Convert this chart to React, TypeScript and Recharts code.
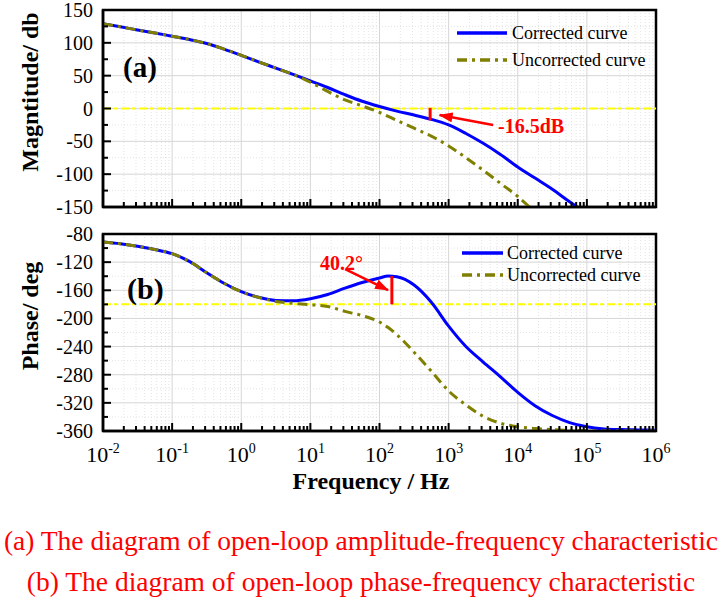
import React from 'react';
import {
  LineChart,
  Line,
  XAxis,
  YAxis,
  CartesianGrid,
  ReferenceLine,
  ReferenceArea,
} from 'recharts';

const SERIF = "'Liberation Serif', Tinos, 'Times New Roman', 'DejaVu Serif', serif";
const BLUE = '#0000ff';
const OLIVE = '#808000';
const RED = '#ff0000';
const YELLOW = '#ffff00';
const OLIVE_DASH = '10 5 3 5';

// x axis: decades 10^-2 .. 10^6
const DECADES = [-2, -1, 0, 1, 2, 3, 4, 5, 6];
const MAJOR_F = DECADES.map((d) => 10 ** d);
const MINOR_F = DECADES.slice(0, -1).flatMap((d) => [2, 3, 4, 5, 6, 7, 8, 9].map((k) => k * 10 ** d));
const ALL_F = [...MAJOR_F, ...MINOR_F].sort((a, b) => a - b);

// (a) magnitude, sampled at log10(f)
const MAG_LOG_F = [
  -2, -1.75, -1.5, -1.25, -1, -0.75, -0.5, -0.25, 0, 0.25, 0.5, 0.75, 1, 1.25, 1.5,
  1.75, 2, 2.25, 2.5, 2.75, 3, 3.25, 3.5, 3.75, 4, 4.25, 4.5, 4.75, 5,
];
const MAG_CORRECTED = [
  129, 124.5, 119.5, 115, 110, 105, 99, 90.5, 81, 71, 61.5, 52, 42, 32, 21,
  11, 3, -4, -10, -16.5, -25, -38, -53, -70, -89, -106, -123, -142, -160,
];
const MAG_UNCORRECTED = [
  129, 124.5, 119.5, 115, 110, 105, 99, 90.5, 81, 71, 61.5, 52, 40, 26, 13,
  4, -6, -18, -30, -42, -57, -75, -94, -114, -134, -158, null, null, null,
];
const MAG_MAJOR = [-150, -100, -50, 0, 50, 100, 150];
const MAG_MINOR = [-125, -75, -25, 25, 75, 125];

// (b) phase, sampled at log10(f)
const PH_LOG_F = [
  -2, -1.75, -1.5, -1.25, -1, -0.75, -0.5, -0.25, 0, 0.25, 0.5, 0.75, 1, 1.25, 1.5,
  1.75, 2, 2.125, 2.25, 2.5, 2.75, 3, 3.25, 3.5, 3.75, 4, 4.25, 4.5, 4.75, 5, 5.25,
  5.5, 5.75, 6,
];
const PH_CORRECTED = [
  -91.5, -94, -97.5, -102, -108, -119, -135, -150, -162, -170, -174.5, -175, -172, -166, -157,
  -149, -142.5, -139.8, -140.8, -152.5, -177, -211, -240, -262, -283, -305, -324, -338, -348, -354, -357,
  -358, -358.5, -359,
];
const PH_UNCORRECTED = [
  -91.5, -94, -97.5, -102, -108, -119, -135, -150, -162, -170, -176, -178.5, -180.5, -183, -190,
  -196, -205, -213, -223, -248, -275, -303, -323, -339, -349, -354, -356.5, -358, -359, -359.5, -360,
  -360, -360, -360,
];
const PH_MAJOR = [-360, -320, -280, -240, -200, -160, -120, -80];
const PH_MINOR = [-340, -300, -260, -220, -180, -140, -100];

const magData = MAG_LOG_F.map((e, i) => ({
  f: 10 ** e,
  corrected: MAG_CORRECTED[i],
  uncorrected: MAG_UNCORRECTED[i],
}));
const phData = PH_LOG_F.map((e, i) => ({
  f: 10 ** e,
  corrected: PH_CORRECTED[i],
  uncorrected: PH_UNCORRECTED[i],
}));

const LEGEND = [
  { name: 'Corrected curve', color: BLUE, dash: undefined },
  { name: 'Uncorrected curve', color: OLIVE, dash: OLIVE_DASH },
];

const serif = { fontFamily: SERIF };

function XTick(props: any) {
  const { x, y, payload, showLabel } = props;
  const e = Math.log10(payload.value);
  const major = Math.abs(e - Math.round(e)) < 1e-6;
  return (
    <g>
      <line x1={x} x2={x} y1={y} y2={y - (major ? 8 : 5)} stroke="#000" strokeWidth={2} />
      {major && showLabel && (
        <text x={x} y={y + 31} textAnchor="middle" style={serif} fontSize={22} fill="#000">
          10
          <tspan dy={-9} fontSize={14}>
            {Math.round(e)}
          </tspan>
        </text>
      )}
    </g>
  );
}

function YTick(props: any) {
  const { x, y, payload, majors } = props;
  const major = majors.includes(payload.value);
  return (
    <g>
      <line x1={x} x2={x + (major ? 8 : 5)} y1={y} y2={y} stroke="#000" strokeWidth={2} />
      {major && (
        <text x={x - 10} y={y + 7} textAnchor="end" style={serif} fontSize={20} fill="#000">
          {payload.value}
        </text>
      )}
    </g>
  );
}

const redArrow = (p: any) => (
  <line x1={p.x1} y1={p.y1} x2={p.x2} y2={p.y2} stroke={RED} strokeWidth={2.5} markerEnd="url(#redArrow)" />
);

function LegendBlock({ x, y, len, textX, rowH }: any) {
  return (
    <g>
      {LEGEND.map((s, i) => (
        <g key={s.name}>
          <line
            x1={x}
            x2={x + len}
            y1={y + i * rowH}
            y2={y + i * rowH}
            stroke={s.color}
            strokeWidth={3.5}
            strokeDasharray={s.dash}
          />
          <text x={textX} y={y + i * rowH + 6} style={serif} fontSize={18} fill="#000">
            {s.name}
          </text>
        </g>
      ))}
    </g>
  );
}

export default function App() {
  const axisLine = { stroke: '#000', strokeWidth: 2.5 };
  return (
    <div style={{ position: 'absolute', left: 0, top: 0, width: 724, height: 607, background: '#fff', fontFamily: SERIF }}>
      <div style={{ position: 'absolute', left: 0, top: 0 }}>
        <LineChart width={724} height={220} data={magData} margin={{ top: 10, right: 68, left: 0, bottom: 0 }}>
          <CartesianGrid verticalValues={MINOR_F} horizontalValues={MAG_MINOR} stroke="#e4e4e4" strokeDasharray="1 2" />
          <CartesianGrid verticalValues={MAJOR_F} horizontalValues={MAG_MAJOR} stroke="#d6d6d6" />
          <XAxis
            dataKey="f"
            type="number"
            scale="log"
            domain={[0.01, 1e6]}
            ticks={ALL_F}
            interval={0}
            allowDataOverflow
            height={13}
            tickSize={0}
            tickMargin={0}
            tickLine={false}
            axisLine={axisLine}
            tick={(p: any) => <XTick {...p} showLabel={false} />}
          />
          <YAxis
            type="number"
            domain={[-150, 150]}
            ticks={[...MAG_MAJOR, ...MAG_MINOR].sort((a, b) => a - b)}
            interval={0}
            allowDataOverflow
            width={103}
            tickSize={0}
            tickMargin={0}
            tickLine={false}
            axisLine={axisLine}
            tick={(p: any) => <YTick {...p} majors={MAG_MAJOR} />}
          />
          <ReferenceLine y={0} stroke={YELLOW} strokeWidth={2} strokeDasharray="8 3 4 3" />
          <Line type="monotone" dataKey="corrected" stroke={BLUE} strokeWidth={3} dot={false} isAnimationActive={false} />
          <Line
            type="monotone"
            dataKey="uncorrected"
            stroke={OLIVE}
            strokeWidth={3}
            strokeDasharray={OLIVE_DASH}
            dot={false}
            isAnimationActive={false}
          />
          <ReferenceLine segment={[{ x: 540, y: 1 }, { x: 540, y: -18 }]} stroke={RED} strokeWidth={3} />
          <ReferenceLine segment={[{ x: 4400, y: -25 }, { x: 740, y: -10 }]} shape={redArrow} />
          <ReferenceArea x1={0.01} x2={1e6} y1={-150} y2={150} fill="none" fillOpacity={0} stroke="#000" strokeWidth={2.5} />
        </LineChart>
      </div>

      <div style={{ position: 'absolute', left: 0, top: 220 }}>
        <LineChart width={724} height={280} data={phData} margin={{ top: 14, right: 68, left: 0, bottom: 0 }}>
          <CartesianGrid verticalValues={MINOR_F} horizontalValues={PH_MINOR} stroke="#e4e4e4" strokeDasharray="1 2" />
          <CartesianGrid verticalValues={MAJOR_F} horizontalValues={PH_MAJOR} stroke="#d6d6d6" />
          <XAxis
            dataKey="f"
            type="number"
            scale="log"
            domain={[0.01, 1e6]}
            ticks={ALL_F}
            interval={0}
            allowDataOverflow
            height={69}
            tickSize={0}
            tickMargin={0}
            tickLine={false}
            axisLine={axisLine}
            tick={(p: any) => <XTick {...p} showLabel />}
          />
          <YAxis
            type="number"
            domain={[-360, -80]}
            ticks={[...PH_MAJOR, ...PH_MINOR].sort((a, b) => a - b)}
            interval={0}
            allowDataOverflow
            width={103}
            tickSize={0}
            tickMargin={0}
            tickLine={false}
            axisLine={axisLine}
            tick={(p: any) => <YTick {...p} majors={PH_MAJOR} />}
          />
          <ReferenceLine y={-180} stroke={YELLOW} strokeWidth={2} strokeDasharray="8 3 4 3" />
          <Line type="monotone" dataKey="corrected" stroke={BLUE} strokeWidth={3} dot={false} isAnimationActive={false} />
          <Line
            type="monotone"
            dataKey="uncorrected"
            stroke={OLIVE}
            strokeWidth={3}
            strokeDasharray={OLIVE_DASH}
            dot={false}
            isAnimationActive={false}
          />
          <ReferenceLine segment={[{ x: 151, y: -139.8 }, { x: 151, y: -180 }]} stroke={RED} strokeWidth={3} />
          <ReferenceLine segment={[{ x: 31.8, y: -130 }, { x: 133, y: -159.6 }]} shape={redArrow} />
          <ReferenceArea x1={0.01} x2={1e6} y1={-360} y2={-80} fill="none" fillOpacity={0} stroke="#000" strokeWidth={2.5} />
        </LineChart>
      </div>

      <svg
        width={724}
        height={607}
        style={{ position: 'absolute', left: 0, top: 0, pointerEvents: 'none', fontFamily: SERIF }}
      >
        <defs>
          <marker id="redArrow" markerWidth={14} markerHeight={10} refX={13} refY={5} orient="auto" markerUnits="userSpaceOnUse">
            <path d="M0,0 L14,5 L0,10 z" fill={RED} />
          </marker>
        </defs>

        <text x={38} y={92} transform="rotate(-90 38 92)" textAnchor="middle" style={serif} fontWeight="bold" fontSize={24}>
          Magntitude/ db
        </text>
        <text x={38} y={316} transform="rotate(-90 38 316)" textAnchor="middle" style={serif} fontWeight="bold" fontSize={24}>
          Phase/ deg
        </text>
        <text x={371} y={489} textAnchor="middle" style={serif} fontWeight="bold" fontSize={24}>
          Frequency / Hz
        </text>

        <text x={123} y={77} style={serif} fontWeight="bold" fontSize={29}>(a)</text>
        <text x={127} y={299} style={serif} fontWeight="bold" fontSize={30}>(b)</text>

        <text x={498} y={133} style={serif} fontWeight="bold" fontSize={20} fill={RED}>-16.5dB</text>
        <text x={320} y={270} style={serif} fontWeight="bold" fontSize={20} fill={RED}>40.2°</text>

        <LegendBlock x={457} y={33} len={50} textX={512} rowH={27} />
        <LegendBlock x={462} y={253} len={41} textX={507} rowH={22} />

        <text x={361} y={550} textAnchor="middle" style={serif} fontSize={27.5} fill={RED}>
          (a) The diagram of open-loop amplitude-frequency characteristic
        </text>
        <text x={361} y={591} textAnchor="middle" style={serif} fontSize={27.5} fill={RED}>
          (b) The diagram of open-loop phase-frequency characteristic
        </text>
      </svg>
    </div>
  );
}
